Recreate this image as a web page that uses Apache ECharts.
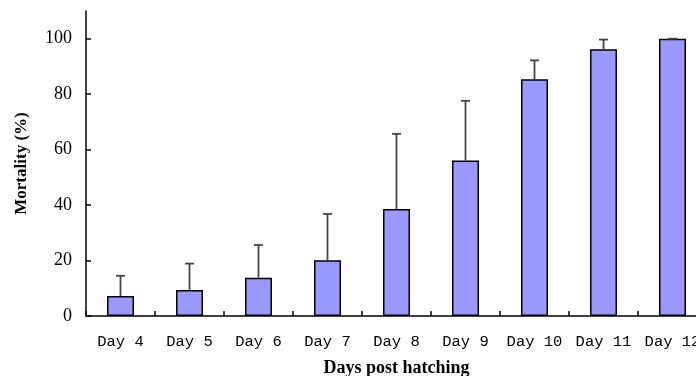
<!DOCTYPE html>
<html>
<head>
<meta charset="utf-8">
<script src="https://cdn.jsdelivr.net/npm/echarts@6/dist/echarts.min.js"></script>
<style>html,body{margin:0;padding:0;background:#fff}#c{width:696px;height:376px}</style>
</head>
<body>
<div id="c"></div>
<script>
var categories = ['Day 4','Day 5','Day 6','Day 7','Day 8','Day 9','Day 10','Day 11','Day 12'];
var mortality = [7.2, 9.4, 13.8, 20.1, 38.6, 56.1, 85.4, 96.2, 100];
var errorTop = [14.5, 18.9, 25.6, 36.8, 65.7, 77.6, 92.2, 99.7, 100];
var yTicks = [0, 20, 40, 60, 80, 100];

var chart = echarts.init(document.getElementById('c'));
chart.setOption({
  animation: false,
  grid: { left: 86, top: 11, bottom: 60, width: 621, containLabel: false, outerBoundsMode: 'none' },
  xAxis: {
    type: 'category',
    data: categories,
    name: 'Days post hatching',
    nameLocation: 'middle',
    nameGap: 43,
    nameTextStyle: { fontFamily: 'Liberation Serif', fontWeight: 'bold', fontSize: 18, color: '#000' },
    axisLine: { lineStyle: { color: '#000', width: 1.5 } },
    axisTick: { show: true, interval: 0, alignWithLabel: false, inside: true, length: 5, lineStyle: { color: '#000', width: 1.5 } },
    axisLabel: { interval: 0, fontFamily: 'Liberation Mono', fontSize: 15.5, color: '#000', margin: 18 }
  },
  yAxis: {
    type: 'value',
    min: 0, max: 110, interval: 10,
    name: 'Mortality (%)',
    nameLocation: 'middle',
    nameGap: 56,
    nameTextStyle: { fontFamily: 'Liberation Serif', fontWeight: 'bold', fontSize: 17, color: '#000' },
    splitLine: { show: false },
    axisLine: { show: true, lineStyle: { color: '#000', width: 1.5 } },
    axisTick: { show: true, inside: true, length: 5, customValues: yTicks, lineStyle: { color: '#000', width: 1.5 } },
    axisLabel: { fontFamily: 'Liberation Serif', fontSize: 18, color: '#000', margin: 14, customValues: yTicks }
  },
  series: [
    {
      type: 'bar',
      data: mortality,
      barWidth: 27,
      itemStyle: { color: '#9999FF', borderColor: '#000', borderWidth: 1.5 },
      z: 2
    },
    {
      type: 'custom',
      z: 3,
      data: categories.map(function (c, i) { return [i, mortality[i], errorTop[i]]; }),
      renderItem: function (params, api) {
        var base = api.coord([api.value(0), api.value(1)]);
        var top = api.coord([api.value(0), api.value(2)]);
        var st = { stroke: '#444', lineWidth: 1.8 };
        return {
          type: 'group',
          children: [
            { type: 'line', shape: { x1: base[0], y1: base[1], x2: top[0], y2: top[1] }, style: st },
            { type: 'line', shape: { x1: top[0] - 4.5, y1: top[1], x2: top[0] + 4.5, y2: top[1] }, style: st }
          ]
        };
      }
    }
  ]
});
</script>
</body>
</html>
